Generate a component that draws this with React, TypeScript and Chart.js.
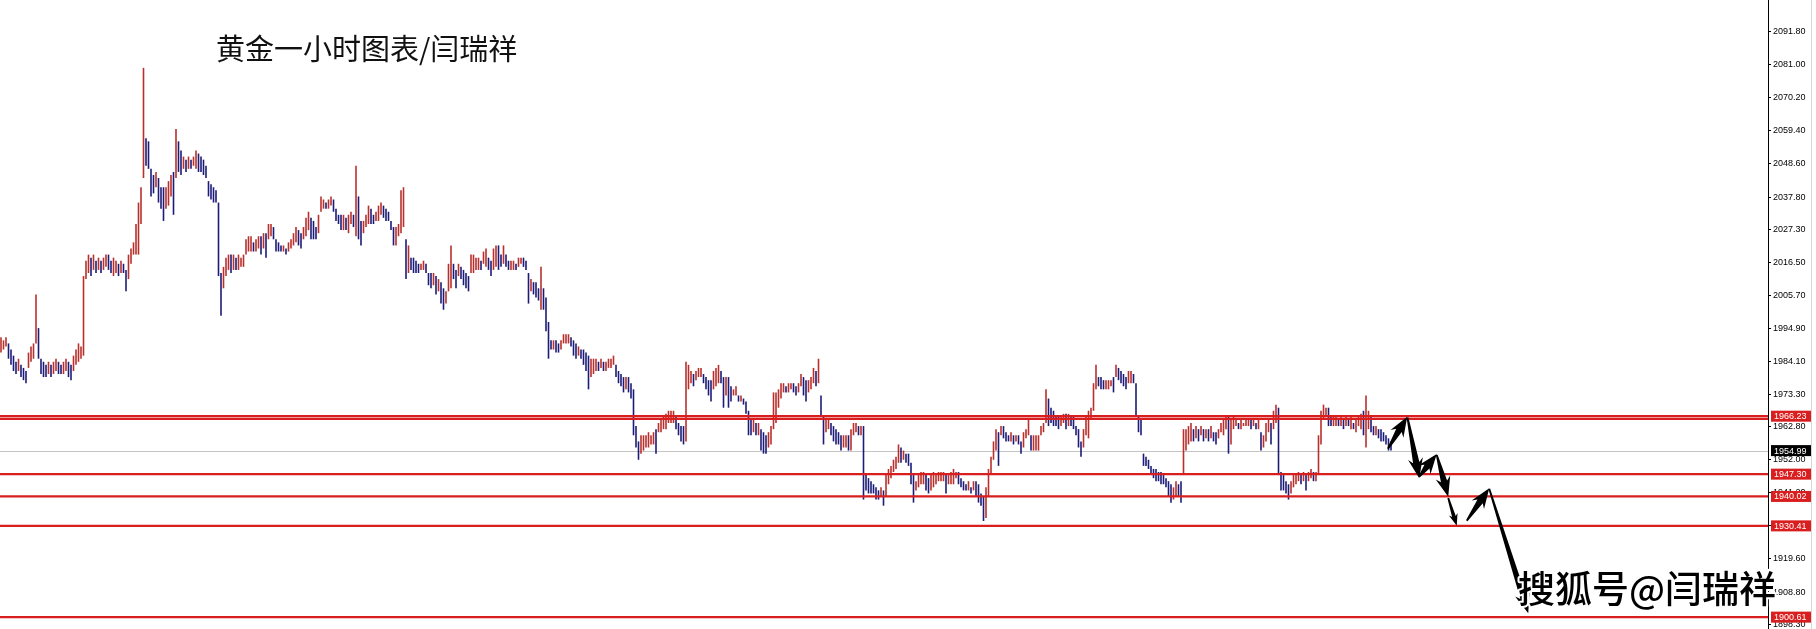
import React, { useEffect, useRef } from 'react';
import { Chart, registerables } from 'chart.js';

Chart.register(...registerables);

// ---- Hourly gold bars (high / low) ----
const highs: number[] = [
  1992,1991,1992,1990,1988,1986,1984,1985,1983,1982,
  1981,1987,1989,1990,2006,1995,1985,1984,1983,1984,
  1983,1984,1985,1984,1983,1984,1985,1984,1983,1986,
  1988,1990,1989,2012,2017,2019,2018,2019,2017,2018,
  2017,2018,2019,2019,2017,2018,2017,2016,2017,2016,
  2014,2019,2021,2023,2029,2036,2041,2080,2057,2056,
  2047,2045,2046,2044,2041,2041,2041,2043,2045,2046,
  2060,2056,2053,2051,2050,2051,2050,2051,2053,2052,
  2051,2050,2048,2043,2042,2041,2040,2036,2013,2015,
  2018,2019,2019,2019,2018,2019,2018,2019,2024,2025,
  2025,2023,2024,2025,2025,2026,2026,2029,2029,2028,
  2024,2023,2022,2022,2021,2023,2024,2026,2028,2027,
  2026,2028,2031,2033,2031,2030,2028,2032,2038,2037,
  2036,2037,2038,2037,2034,2032,2032,2032,2031,2032,
  2033,2032,2048,2038,2030,2030,2032,2035,2034,2032,
  2033,2035,2036,2035,2034,2033,2030,2028,2028,2029,
  2040,2041,2024,2022,2018,2018,2017,2016,2016,2017,
  2016,2013,2013,2013,2012,2011,2010,2008,2007,2016,
  2022,2016,2014,2016,2015,2014,2013,2012,2019,2019,
  2018,2018,2017,2020,2021,2018,2017,2021,2022,2022,
  2019,2022,2019,2017,2017,2017,2016,2018,2018,2018,
  2017,2013,2011,2010,2010,2008,2015,2008,2005,1997,
  1991,1991,1991,1990,1991,1993,1993,1993,1992,1991,
  1990,1989,1988,1988,1987,1986,1985,1985,1985,1984,
  1985,1984,1984,1985,1985,1986,1983,1981,1980,1979,
  1979,1979,1977,1975,1963,1958,1960,1960,1960,1961,
  1960,1961,1962,1964,1965,1966,1967,1968,1968,1968,
  1966,1964,1963,1963,1984,1983,1981,1980,1981,1982,
  1982,1980,1979,1978,1978,1981,1982,1983,1981,1979,
  1979,1979,1976,1975,1976,1973,1973,1972,1971,1968,
  1965,1965,1964,1964,1962,1961,1960,1961,1963,1974,
  1974,1975,1977,1977,1976,1977,1977,1977,1976,1977,
  1980,1979,1978,1978,1979,1982,1981,1985,1973,1966,
  1965,1965,1964,1963,1962,1961,1960,1960,1960,1960,
  1962,1964,1964,1963,1963,1963,1947,1946,1945,1944,
  1943,1942,1943,1942,1947,1949,1950,1952,1953,1957,
  1956,1955,1954,1954,1951,1947,1945,1947,1948,1948,
  1947,1946,1947,1948,1947,1948,1948,1948,1947,1947,
  1948,1949,1948,1948,1946,1945,1944,1945,1943,1945,
  1945,1944,1941,1940,1943,1949,1953,1958,1962,1961,
  1963,1963,1961,1960,1961,1960,1960,1960,1958,1961,
  1962,1965,1960,1960,1960,1960,1963,1964,1975,1972,
  1969,1968,1966,1966,1966,1967,1967,1967,1966,1966,
  1963,1962,1958,1962,1966,1968,1969,1977,1983,1979,
  1979,1978,1978,1978,1978,1979,1983,1982,1981,1980,
  1979,1981,1981,1980,1977,1966,1965,1954,1953,1952,
  1950,1949,1949,1948,1948,1947,1946,1945,1944,1943,
  1945,1944,1945,1962,1962,1963,1964,1962,1963,1962,
  1963,1962,1962,1962,1963,1961,1961,1962,1964,1965,
  1966,1966,1965,1966,1965,1964,1965,1964,1965,1965,
  1965,1965,1964,1965,1961,1960,1964,1965,1964,1968,
  1970,1969,1948,1947,1945,1944,1945,1947,1947,1948,
  1947,1948,1947,1948,1949,1948,1948,1960,1968,1970,
  1969,1969,1966,1966,1966,1965,1966,1965,1966,1965,
  1966,1964,1965,1966,1967,1968,1973,1968,1966,1963,
  1963,1962,1962,1961,1960,1959,1958,
];

const lows: number[] = [
  1987,1988,1989,1985,1983,1981,1980,1981,1979,1978,
  1977,1982,1984,1985,1990,1985,1980,1979,1979,1980,
  1979,1980,1981,1980,1980,1980,1981,1979,1978,1981,
  1983,1984,1985,1986,2011,2013,2012,2014,2013,2014,
  2013,2014,2015,2014,2013,2012,2013,2012,2013,2013,
  2007,2011,2016,2019,2019,2019,2029,2044,2048,2047,
  2038,2039,2041,2036,2034,2030,2034,2035,2038,2032,
  2044,2046,2045,2047,2046,2047,2047,2048,2047,2046,
  2046,2045,2044,2038,2037,2036,2036,2012,1999,2008,
  2012,2014,2013,2014,2014,2014,2015,2015,2019,2020,
  2020,2020,2020,2021,2019,2021,2018,2024,2025,2024,
  2020,2020,2020,2020,2019,2020,2021,2022,2023,2022,
  2021,2024,2025,2027,2024,2024,2024,2026,2033,2034,
  2034,2034,2035,2033,2030,2029,2027,2027,2027,2026,
  2029,2028,2025,2024,2022,2026,2028,2029,2029,2029,
  2030,2030,2032,2031,2030,2030,2027,2022,2022,2025,
  2026,2028,2011,2013,2014,2013,2013,2013,2014,2014,
  2013,2009,2008,2009,2006,2007,2003,2001,2003,2007,
  2008,2011,2008,2012,2011,2009,2008,2007,2013,2013,
  2014,2014,2014,2016,2015,2014,2012,2014,2015,2014,
  2015,2016,2015,2014,2014,2014,2014,2015,2016,2015,
  2014,2003,2007,2006,2005,2004,2001,2001,1994,1985,
  1988,1988,1987,1987,1988,1990,1990,1990,1989,1986,
  1985,1986,1985,1983,1981,1975,1979,1980,1981,1981,
  1982,1981,1981,1982,1982,1983,1979,1977,1976,1974,
  1975,1974,1972,1960,1956,1952,1954,1955,1956,1956,
  1957,1957,1954,1961,1961,1962,1962,1964,1964,1964,
  1962,1960,1958,1957,1958,1975,1977,1976,1978,1979,
  1979,1977,1975,1973,1971,1975,1976,1977,1977,1969,
  1973,1969,1971,1973,1973,1971,1971,1970,1967,1960,
  1960,1961,1960,1960,1955,1954,1954,1956,1957,1962,
  1964,1969,1972,1974,1974,1974,1975,1974,1973,1974,
  1976,1973,1971,1974,1975,1977,1976,1977,1966,1957,
  1961,1962,1960,1958,1957,1957,1955,1956,1956,1955,
  1955,1960,1961,1960,1960,1939,1942,1941,1941,1941,
  1939,1939,1940,1937,1940,1944,1946,1948,1949,1951,
  1951,1952,1951,1950,1944,1938,1942,1943,1944,1944,
  1942,1941,1942,1943,1944,1945,1945,1945,1941,1944,
  1944,1944,1946,1944,1943,1942,1942,1942,1941,1942,
  1940,1938,1937,1932,1933,1940,1947,1952,1955,1950,
  1960,1959,1958,1958,1958,1957,1958,1957,1954,1956,
  1959,1960,1955,1955,1955,1955,1960,1961,1964,1963,
  1964,1963,1963,1962,1963,1964,1962,1963,1963,1962,
  1960,1956,1953,1956,1960,1959,1965,1968,1975,1976,
  1975,1975,1975,1975,1976,1974,1979,1978,1977,1976,
  1975,1977,1977,1977,1966,1961,1960,1950,1950,1949,
  1947,1946,1945,1945,1944,1944,1943,1940,1938,1939,
  1940,1940,1938,1947,1955,1957,1958,1958,1959,1958,
  1960,1958,1959,1958,1959,1958,1957,1959,1961,1960,
  1962,1954,1957,1962,1963,1962,1962,1963,1963,1963,
  1962,1963,1962,1962,1955,1956,1958,1961,1957,1962,
  1964,1947,1942,1942,1941,1939,1941,1943,1944,1945,
  1944,1945,1942,1945,1946,1945,1945,1947,1957,1965,
  1966,1963,1963,1963,1963,1963,1963,1962,1963,1963,
  1962,1962,1961,1963,1962,1960,1956,1962,1961,1960,
  1960,1959,1958,1958,1957,1955,1955,
];

// ---- Axis / annotation values ----
const priceMin = 1896.73;
const priceMax = 2102.15;
const slotMin = -0.4;
const slotMax = 706.8;

const yTickValues = [
  2091.8, 2081.0, 2070.2, 2059.4, 2048.6, 2037.8, 2027.3, 2016.5, 2005.7,
  1994.9, 1984.1, 1973.3, 1962.8, 1952.0, 1941.2, 1930.4, 1919.6, 1908.8, 1898.3,
];

const levelLines = [1966.23, 1965.35, 1947.3, 1940.02, 1930.41, 1900.61];
const levelLabels = [1966.23, 1947.3, 1940.02, 1930.41, 1900.61];
const bidPrice = 1954.99;

// forecast arrows in (bar index, price) space
const arrowFromIdx = [554.8, 562.6, 567.3, 574.3, 578.9, 586.3, 595.3];
const arrowFromPrice = [1955.6, 1965.8, 1946.5, 1953.6, 1939.5, 1932.1, 1942.5];
const arrowToIdx = [562.5, 567.3, 574.3, 578.9, 582.3, 595.3, 610.9];
const arrowToPrice = [1966.06, 1945.95, 1953.9, 1939.9, 1930.47, 1942.68, 1901.85];
const arrowHeadScale = [1, 1, 1, 1, 0.6, 1, 1];

const titleText = '黄金一小时图表/闫瑞祥';
const watermarkText = '搜狐号@闫瑞祥';

const upColor = '#b8302c';
const downColor = '#1c1c78';
const levelColor = '#d81e1e';

function drawArrow(ctx: CanvasRenderingContext2D, x1: number, y1: number, x2: number, y2: number, s: number) {
  const dx = x2 - x1;
  const dy = y2 - y1;
  const len = Math.hypot(dx, dy);
  const ux = dx / len;
  const uy = dy / len;
  const nx = -uy;
  const ny = ux;
  const headLen = 20 * s;
  const headW = 7.5 * s;
  const w0 = 0.9;
  const w1 = 3.2 * s;
  const bx = x2 - ux * headLen;
  const by = y2 - uy * headLen;
  const notch = 4 * s;
  ctx.beginPath();
  ctx.moveTo(x1 + nx * w0, y1 + ny * w0);
  ctx.lineTo(bx + ux * notch + nx * w1, by + uy * notch + ny * w1);
  ctx.lineTo(bx + nx * headW, by + ny * headW);
  ctx.lineTo(x2, y2);
  ctx.lineTo(bx - nx * headW, by - ny * headW);
  ctx.lineTo(bx + ux * notch - nx * w1, by + uy * notch - ny * w1);
  ctx.lineTo(x1 - nx * w0, y1 - ny * w0);
  ctx.closePath();
  ctx.fill();
}

const overlayPlugin = {
  id: 'mt4Overlay',
  beforeDatasetsDraw(chart: any) {
    const { ctx, chartArea, scales } = chart;
    const y = Math.round(scales.y.getPixelForValue(bidPrice)) + 0.5;
    ctx.save();
    ctx.strokeStyle = '#c4c4c4';
    ctx.lineWidth = 1;
    ctx.beginPath();
    ctx.moveTo(chartArea.left, y);
    ctx.lineTo(chartArea.right, y);
    ctx.stroke();
    ctx.restore();
  },
  afterDatasetsDraw(chart: any) {
    const { ctx, chartArea, scales } = chart;
    ctx.save();
    ctx.strokeStyle = levelColor;
    ctx.lineWidth = 2.2;
    levelLines.forEach((v) => {
      const y = scales.y.getPixelForValue(v);
      ctx.beginPath();
      ctx.moveTo(chartArea.left, y);
      ctx.lineTo(chartArea.right, y);
      ctx.stroke();
    });
    ctx.fillStyle = '#000';
    for (let i = 0; i < arrowFromIdx.length; i++) {
      drawArrow(
        ctx,
        scales.x.getPixelForValue(arrowFromIdx[i]),
        scales.y.getPixelForValue(arrowFromPrice[i]),
        scales.x.getPixelForValue(arrowToIdx[i]),
        scales.y.getPixelForValue(arrowToPrice[i]),
        arrowHeadScale[i]
      );
    }
    ctx.restore();
  },
  afterDraw(chart: any) {
    const { ctx, chartArea, scales } = chart;
    ctx.save();
    // frame line at the right of the price panel
    ctx.strokeStyle = '#d6d6d6';
    ctx.lineWidth = 1;
    ctx.beginPath();
    ctx.moveTo(1811.5, 0);
    ctx.lineTo(1811.5, chart.height);
    ctx.stroke();

    // price label boxes
    ctx.font = '9px "Liberation Sans", Arial, sans-serif';
    ctx.textBaseline = 'middle';
    ctx.textAlign = 'left';
    const boxX = chartArea.right + 3;
    const boxW = 40;
    const drawBox = (v: number, bg: string) => {
      const y = scales.y.getPixelForValue(v);
      ctx.fillStyle = bg;
      ctx.fillRect(boxX, y - 5.5, boxW, 11);
      ctx.fillStyle = '#fff';
      ctx.fillText(v.toFixed(2), boxX + 3, y + 0.5);
    };
    levelLabels.forEach((v) => drawBox(v, levelColor));
    drawBox(bidPrice, '#000');

    // title
    ctx.fillStyle = '#111';
    ctx.textBaseline = 'alphabetic';
    ctx.font = '29px "Noto Sans CJK SC", sans-serif';
    ctx.fillText(titleText, 216, 60);

    // watermark
    ctx.font = '500 37px "Noto Sans CJK SC", sans-serif';
    ctx.lineJoin = 'round';
    ctx.strokeStyle = '#ffffff';
    ctx.lineWidth = 4;
    ctx.strokeText(watermarkText, 1518, 603);
    ctx.fillStyle = '#000';
    ctx.fillText(watermarkText, 1518, 603);
    ctx.restore();
  },
};

export default function App() {
  const canvasRef = useRef<HTMLCanvasElement | null>(null);

  useEffect(() => {
    document.body.style.margin = '0';
    const n = Math.min(highs.length, lows.length);
    const points: { x: number; y: [number, number] }[] = [];
    const colors: string[] = [];
    for (let i = 0; i < n; i++) {
      points.push({ x: i, y: [lows[i], highs[i]] });
      if (i === 0) {
        colors.push(upColor);
      } else {
        const mid = (highs[i] + lows[i]) / 2;
        const prev = (highs[i - 1] + lows[i - 1]) / 2;
        colors.push(mid >= prev ? upColor : downColor);
      }
    }

    const chart = new Chart(canvasRef.current as HTMLCanvasElement, {
      type: 'bar',
      data: {
        datasets: [
          {
            data: points as any,
            backgroundColor: colors,
            borderWidth: 0,
            barThickness: 1.6,
            inflateAmount: 0,
          } as any,
        ],
      },
      options: {
        animation: false,
        responsive: true,
        maintainAspectRatio: false,
        layout: { padding: 0 },
        plugins: {
          legend: { display: false },
          tooltip: { enabled: false },
          title: { display: false },
        },
        scales: {
          x: {
            type: 'linear',
            min: slotMin,
            max: slotMax,
            display: false,
            offset: false,
          },
          y: {
            position: 'right',
            min: priceMin,
            max: priceMax,
            afterBuildTicks: (scale: any) => {
              scale.ticks = yTickValues.map((v) => ({ value: v }));
            },
            afterFit: (scale: any) => {
              scale.width = 48;
              scale.paddingTop = 0;
              scale.paddingBottom = 0;
            },
            ticks: {
              autoSkip: false,
              maxRotation: 0,
              padding: 2,
              color: '#000',
              font: { family: '"Liberation Sans", Arial, sans-serif', size: 9 },
              callback: (v: any) => Number(v).toFixed(2),
            },
            grid: {
              drawOnChartArea: false,
              drawTicks: true,
              tickLength: 3,
              color: '#000',
            },
            border: { display: true, color: '#000', width: 1 },
          },
        },
      } as any,
      plugins: [overlayPlugin],
    });

    return () => chart.destroy();
  }, []);

  return (
    <div style={{ width: 1816, height: 629, position: 'relative', background: '#fff' }}>
      <canvas ref={canvasRef} />
    </div>
  );
}
